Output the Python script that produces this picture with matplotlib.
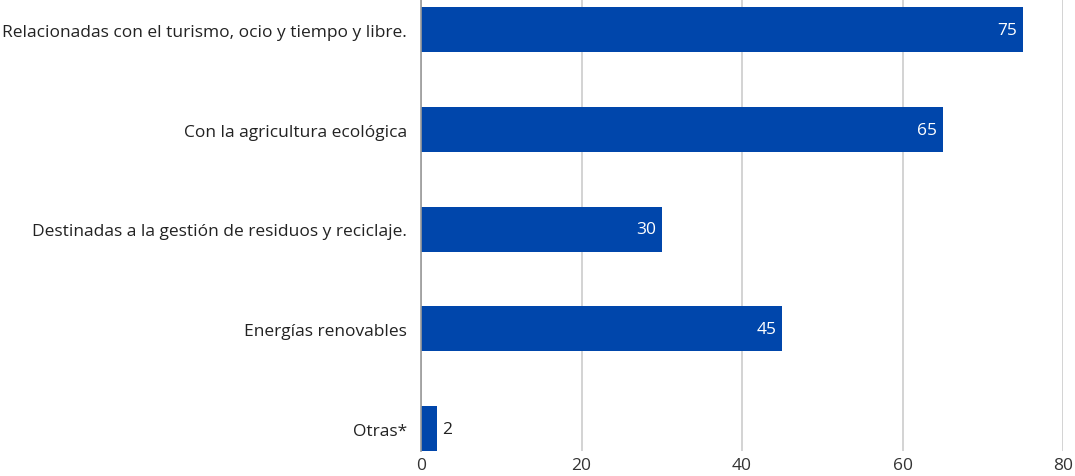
import matplotlib
matplotlib.use("Agg")
import matplotlib.pyplot as plt

categories = [
    "Relacionadas con el turismo, ocio y tiempo y libre.",
    "Con la agricultura ecológica",
    "Destinadas a la gestión de residuos y reciclaje.",
    "Energías renovables",
    "Otras*",
]
values = [75, 65, 30, 45, 2]
xticks = [0, 20, 40, 60, 80]

BAR = "#0046AB"
FS = 12.5
plt.rcParams['font.family'] = ['Open Sans', 'DejaVu Sans']

fig = plt.figure(figsize=(10.75, 4.77), dpi=100)
ax = fig.add_axes([421/1075, 1 - 452/477, (1063 - 421)/1075, 452/477])

ypos = list(range(len(categories)))
bars = ax.barh(ypos, values, height=0.45, color=BAR, zorder=3)

ax.set_ylim(4.225, -0.31)
ax.set_xlim(0, 80)
ax.set_xticks(xticks)
ax.set_xticklabels([str(t) for t in xticks], fontsize=FS, color="#333333")
ax.set_yticks(ypos)
ax.set_yticklabels(categories, fontsize=FS, color="#222222")
ax.tick_params(axis='both', length=0)
ax.tick_params(axis='x', pad=4)
ax.tick_params(axis='y', pad=10)

ax.grid(axis='x', color="#cccccc", linewidth=1.2, zorder=0)
for s in ["top", "right", "bottom"]:
    ax.spines[s].set_visible(False)
ax.spines["left"].set_color("#999999")
ax.spines["left"].set_linewidth(1.2)
ax.spines["left"].set_zorder(4)

for b, v in zip(bars, values):
    y = b.get_y() + b.get_height() / 2
    if v >= 10:
        ax.annotate(str(v), (v, y), xytext=(-4, 0), textcoords="offset points",
                    ha="right", va="center", color="white", fontsize=FS)
    else:
        ax.annotate(str(v), (v, y), xytext=(4, 0), textcoords="offset points",
                    ha="left", va="center", color="#222222", fontsize=FS)

fig.savefig("out.png", dpi=100)
